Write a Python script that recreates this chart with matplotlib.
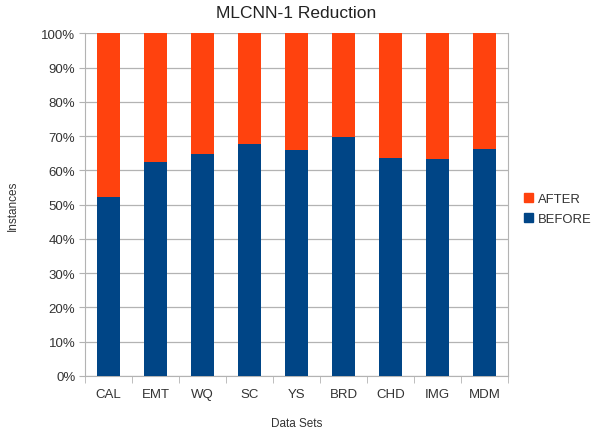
import numpy as np
import matplotlib
matplotlib.use("Agg")
import matplotlib.pyplot as plt
from matplotlib.patches import Patch

# === DATA ===
categories = ["CAL", "EMT", "WQ", "SC", "YS", "BRD", "CHD", "IMG", "MDM"]
before = [52.2, 62.5, 64.9, 67.6, 65.9, 69.6, 63.5, 63.4, 66.2]
after = [100 - b for b in before]
y_ticks = list(range(0, 101, 10))

C_BEFORE = "#004586"
C_AFTER = "#ff420e"

plt.rcParams["font.family"] = ["Liberation Sans", "DejaVu Sans"]

fig = plt.figure(figsize=(5.92, 4.31), dpi=100)
ax = fig.add_axes([85 / 592, 1 - 377 / 431, (508 - 85) / 592, (377 - 34.3) / 431])

x = np.arange(len(categories))
ax.bar(x, before, width=0.5, color=C_BEFORE, zorder=3)
ax.bar(x, after, bottom=before, width=0.5, color=C_AFTER, zorder=3)

ax.set_xlim(-0.5, len(categories) - 0.5)
ax.set_ylim(0, 100)
ax.set_yticks(y_ticks)
ax.set_yticklabels([f"{t}%" for t in y_ticks], fontsize=9.5, color="#333333")
ax.set_xticks(x)
ax.set_xticklabels(categories, fontsize=9.5, color="#333333")
ax.tick_params(axis="x", length=0, pad=9)
ax.set_xticks(np.arange(-0.5, len(categories), 1), minor=True)
ax.tick_params(axis="x", which="minor", length=5, color="#b3b3b3", direction="out")
ax.tick_params(axis="y", length=4, color="#b3b3b3", direction="out", pad=3)

ax.grid(axis="y", color="#b3b3b3", linewidth=0.9, zorder=0)
for side in ["left", "right", "bottom"]:
    ax.spines[side].set_color("#b3b3b3")
ax.spines["top"].set_visible(False)

ax.set_xlabel("Data Sets", fontsize=8.5, color="#333333", labelpad=12)
ax.set_ylabel("Instances", fontsize=8.5, color="#333333", labelpad=16)
fig.suptitle("MLCNN-1 Reduction", fontsize=12.5, color="#222222", y=0.985)

handles = [Patch(color=C_AFTER, label="AFTER"), Patch(color=C_BEFORE, label="BEFORE")]
fig.legend(handles=handles, loc="center left", bbox_to_anchor=(524 / 592, 1 - 210 / 431),
           frameon=False, fontsize=9.4, handlelength=0.7, handleheight=0.7,
           handletextpad=0.35, labelspacing=0.6, labelcolor="#333333",
           borderpad=0, borderaxespad=0)

fig.savefig("out.png", dpi=100)
